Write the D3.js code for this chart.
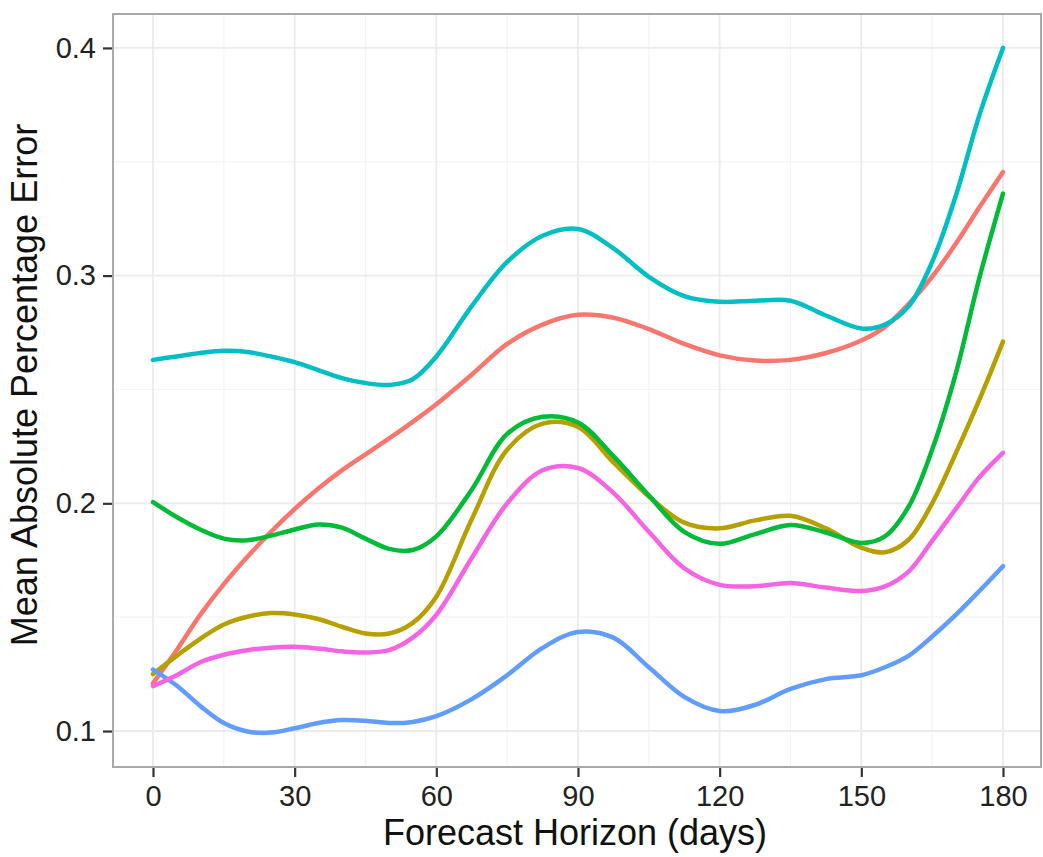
<!DOCTYPE html>
<html>
<head>
<meta charset="utf-8">
<script src="https://cdn.jsdelivr.net/npm/d3@7"></script>
<style>
  html, body { margin: 0; padding: 0; background: #ffffff; }
  svg { display: block; font-family: "Liberation Sans", Arial, Helvetica, sans-serif; }
</style>
</head>
<body>
<svg id="chart" width="1043" height="857"></svg>
<script>
// ---- data ----
const days = [0,5,10,15,20,25,30,35,40,45,50,55,60,67.5,75,82.5,90,97.5,105,112.5,120,127.5,135,142.5,150,155,160,165,170,175,180];

const seriesRed   = [0.121,0.1355,0.151,0.1645,0.1765,0.1875,0.1975,0.2065,0.2145,0.2215,0.2285,0.2358,0.2435,0.2565,0.2700,0.2785,0.2828,0.2815,0.2765,0.27,0.265,0.2627,0.263,0.266,0.2715,0.2775,0.2875,0.2995,0.314,0.330,0.3455];
const seriesOlive = [0.125,0.133,0.1405,0.1468,0.1502,0.1518,0.1512,0.1492,0.1458,0.1428,0.1428,0.1475,0.159,0.193,0.2235,0.235,0.2335,0.218,0.203,0.1915,0.189,0.1925,0.1945,0.189,0.1805,0.1785,0.184,0.2,0.222,0.2455,0.271];
const seriesGreen = [0.2005,0.194,0.1885,0.1845,0.1838,0.1858,0.1885,0.1907,0.1893,0.1845,0.18,0.1795,0.1855,0.206,0.2305,0.238,0.2355,0.2207,0.2035,0.1875,0.1822,0.1865,0.1905,0.1872,0.1826,0.1855,0.1985,0.2236,0.257,0.299,0.336];
const seriesCyan  = [0.263,0.2645,0.266,0.267,0.2665,0.2645,0.262,0.2585,0.255,0.2528,0.252,0.2545,0.2645,0.2866,0.306,0.3175,0.3205,0.312,0.2995,0.291,0.2885,0.289,0.289,0.2825,0.2768,0.2785,0.2865,0.306,0.335,0.3705,0.4];
const seriesBlue  = [0.127,0.12,0.111,0.1035,0.0998,0.0993,0.1012,0.1035,0.1048,0.1045,0.1035,0.104,0.1065,0.114,0.1245,0.1365,0.1435,0.141,0.128,0.115,0.1088,0.1115,0.1185,0.1228,0.1245,0.128,0.133,0.1415,0.151,0.1615,0.1724];
const seriesPink  = [0.1197,0.1245,0.1302,0.1335,0.1355,0.1366,0.137,0.1362,0.135,0.1345,0.1355,0.141,0.151,0.176,0.2,0.2145,0.2155,0.2046,0.1875,0.1715,0.1642,0.1636,0.165,0.163,0.1615,0.1635,0.17,0.1835,0.1975,0.2115,0.2222];

const seriesList = [seriesRed, seriesOlive, seriesGreen, seriesCyan, seriesBlue, seriesPink];
const seriesColors = ["#F8766D", "#B79F00", "#00BA38", "#00BFC4", "#619CFF", "#F564E3"];

const xTicks = [0,30,60,90,120,150,180];
const xMinor = [15,45,75,105,135,165];
const yTicks = [0.1,0.2,0.3,0.4];
const yMinor = [0.15,0.25,0.35];

const xTitle = "Forecast Horizon (days)";
const yTitle = "Mean Absolute Percentage Error";

// ---- layout ----
const panel = { left: 113, right: 1041, top: 14, bottom: 767 };
const svg = d3.select("#chart");

const x = d3.scaleLinear().domain([-8.47, 188.05]).range([panel.left, panel.right]);
const y = d3.scaleLinear().domain([0.0842, 0.4149]).range([panel.bottom, panel.top]);

svg.append("rect")
  .attr("x", panel.left).attr("y", panel.top)
  .attr("width", panel.right - panel.left).attr("height", panel.bottom - panel.top)
  .attr("fill", "#ffffff");

const grid = svg.append("g");
grid.selectAll("line.xminor").data(xMinor).enter().append("line")
  .attr("x1", d => x(d)).attr("x2", d => x(d))
  .attr("y1", panel.top).attr("y2", panel.bottom)
  .attr("stroke", "#f4f4f4").attr("stroke-width", 1.2);
grid.selectAll("line.yminor").data(yMinor).enter().append("line")
  .attr("y1", d => y(d)).attr("y2", d => y(d))
  .attr("x1", panel.left).attr("x2", panel.right)
  .attr("stroke", "#f4f4f4").attr("stroke-width", 1.2);
grid.selectAll("line.xmajor").data(xTicks).enter().append("line")
  .attr("x1", d => x(d)).attr("x2", d => x(d))
  .attr("y1", panel.top).attr("y2", panel.bottom)
  .attr("stroke", "#ebebeb").attr("stroke-width", 1.8);
grid.selectAll("line.ymajor").data(yTicks).enter().append("line")
  .attr("y1", d => y(d)).attr("y2", d => y(d))
  .attr("x1", panel.left).attr("x2", panel.right)
  .attr("stroke", "#ebebeb").attr("stroke-width", 1.8);

const line = d3.line()
  .x(d => x(d[0]))
  .y(d => y(d[1]))
  .curve(d3.curveCatmullRom.alpha(0.5));

seriesList.forEach((vals, i) => {
  svg.append("path")
    .datum(days.map((d, j) => [d, vals[j]]))
    .attr("fill", "none")
    .attr("stroke", seriesColors[i])
    .attr("stroke-width", 4.5)
    .attr("stroke-linejoin", "round")
    .attr("stroke-linecap", "round")
    .attr("d", line);
});

svg.append("rect")
  .attr("x", panel.left).attr("y", panel.top)
  .attr("width", panel.right - panel.left).attr("height", panel.bottom - panel.top)
  .attr("fill", "none").attr("stroke", "#a9a9a9").attr("stroke-width", 2);

const xAxis = d3.axisBottom(x).tickValues(xTicks).tickSize(9).tickPadding(8).tickFormat(d3.format("d"));
const gx = svg.append("g").attr("transform", `translate(0,${panel.bottom + 1})`).call(xAxis);
gx.select(".domain").remove();
gx.selectAll(".tick line").attr("stroke", "#333333").attr("stroke-width", 2.2);
gx.selectAll(".tick text").attr("fill", "#222222").attr("font-size", 29)
  .attr("font-family", "Liberation Sans, Arial, sans-serif");

const yAxis = d3.axisLeft(y).tickValues(yTicks).tickSize(9).tickPadding(7).tickFormat(d3.format(".1f"));
const gy = svg.append("g").attr("transform", `translate(${panel.left - 1},0)`).call(yAxis);
gy.select(".domain").remove();
gy.selectAll(".tick line").attr("stroke", "#333333").attr("stroke-width", 2.2);
gy.selectAll(".tick text").attr("fill", "#222222").attr("font-size", 29)
  .attr("font-family", "Liberation Sans, Arial, sans-serif");

svg.append("text")
  .attr("x", 575).attr("y", 845)
  .attr("text-anchor", "middle")
  .attr("font-size", 36).attr("fill", "#111111")
  .text(xTitle);

svg.append("text")
  .attr("transform", "translate(37,385) rotate(-90)")
  .attr("text-anchor", "middle")
  .attr("font-size", 36).attr("fill", "#111111")
  .text(yTitle);
</script>
</body>
</html>
